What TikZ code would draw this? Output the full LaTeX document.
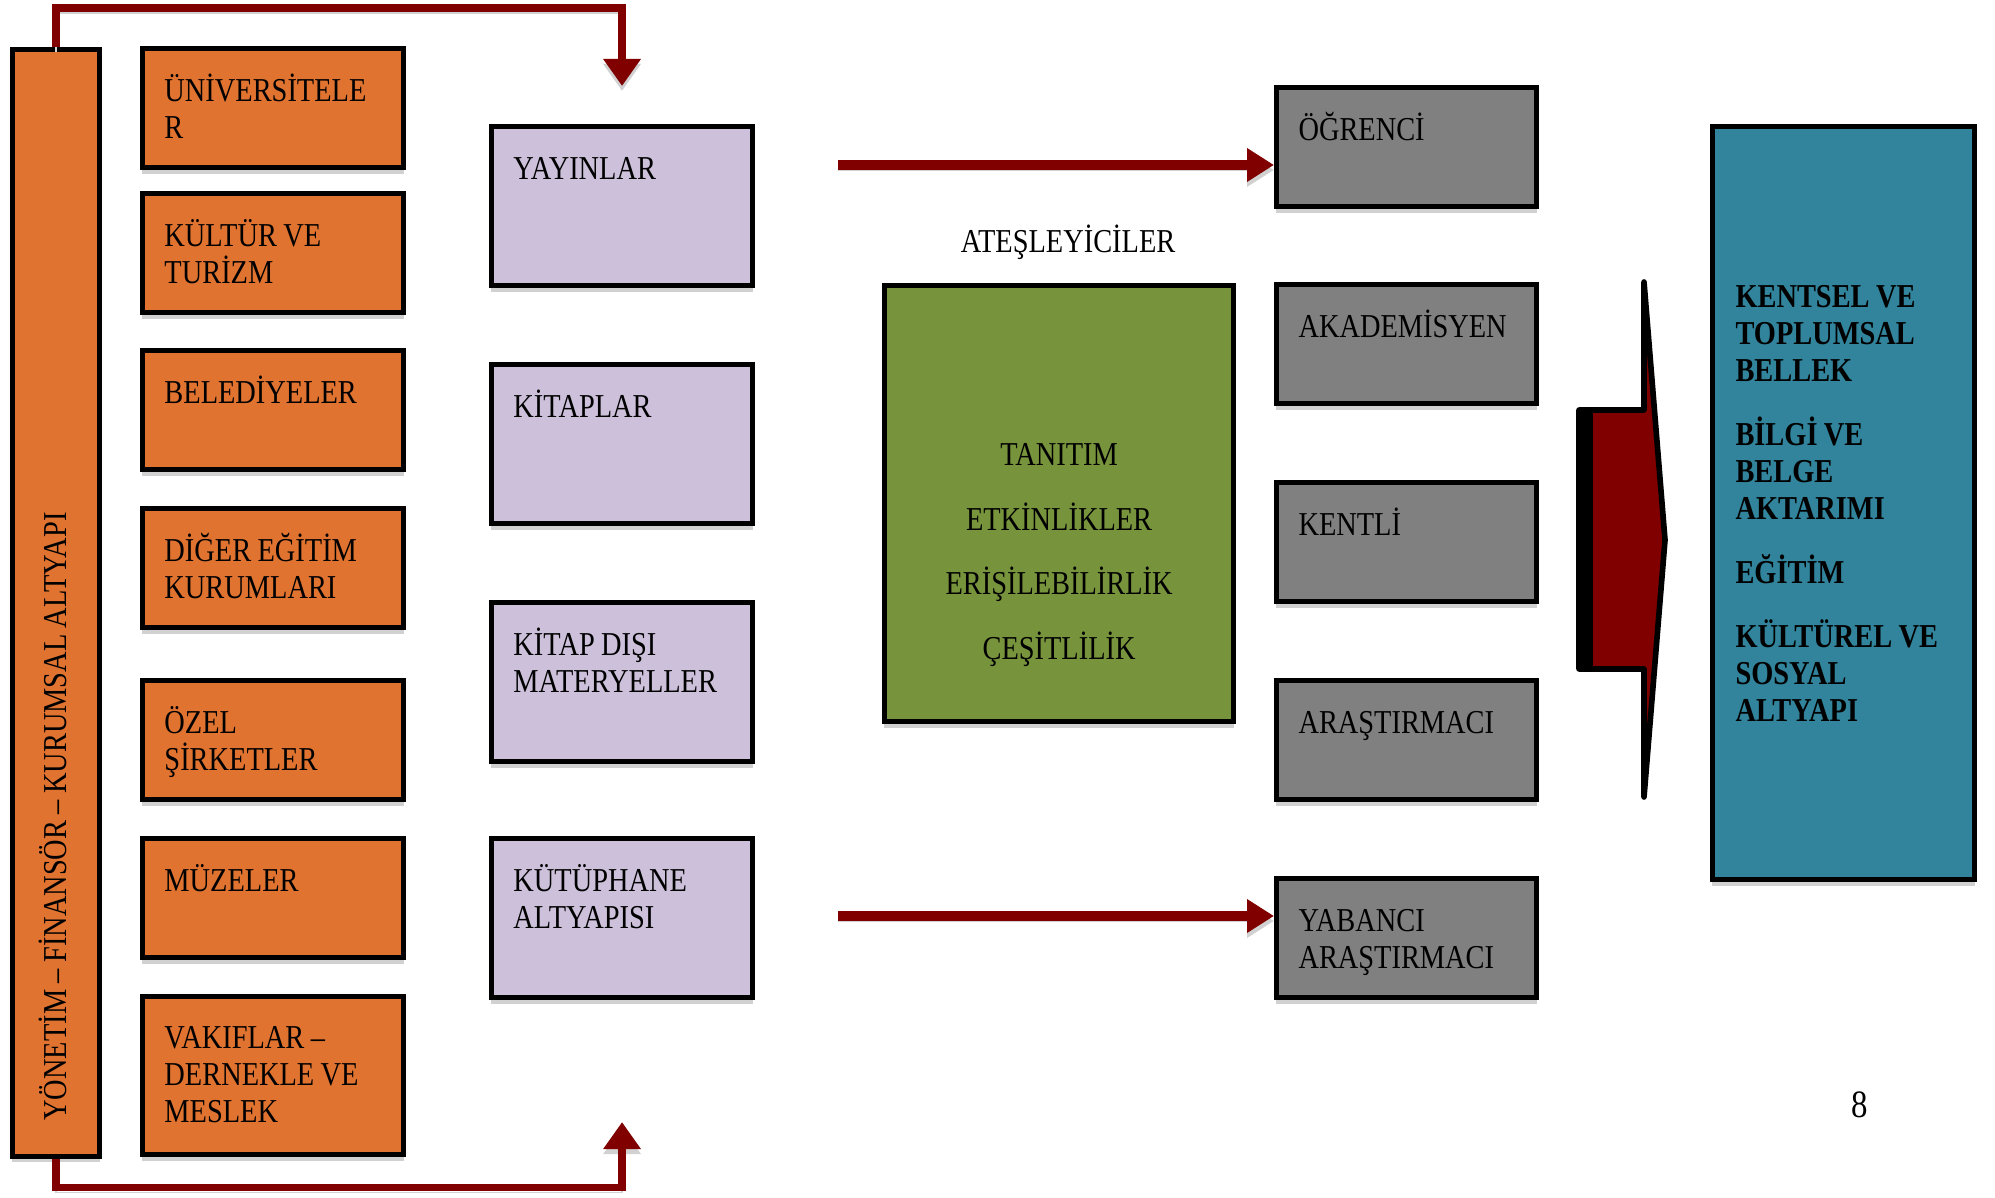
\documentclass[tikz,border=0pt]{standalone}
\usepackage{fontspec}
\setmainfont{Liberation Serif}[FakeStretch=0.85, WordSpace=0.9]
\usetikzlibrary{arrows.meta, positioning, shadows, calc}
\definecolor{mainOrange}{HTML}{E07330}
\definecolor{mainLilac}{HTML}{CCC0DA}
\definecolor{mainGray}{HTML}{808080}
\definecolor{mainGreen}{HTML}{77933C}
\definecolor{mainTeal}{HTML}{31849B}
\definecolor{linkRed}{HTML}{800000}
\definecolor{shadowGray}{gray}{0.82}

\begin{document}
\begin{tikzpicture}[x=0.01cm, y=-0.01cm,
    txt/.style={font=\fontsize{9.5}{10.5}\selectfont},
    base/.style={txt, draw=black, line width=1.4pt, anchor=north west, inner xsep=0.22cm, inner ysep=0pt, align=flush left,
        drop shadow={shadow xshift=0pt, shadow yshift=-0.06cm, fill=shadowGray, opacity=1}},
    orgbox/.style={base, fill=mainOrange, text width=2.17cm, text height=0.53cm, text depth=0.66cm},
    lilbox/.style={base, fill=mainLilac, text width=2.17cm, text height=0.53cm, text depth=1.06cm},
    grybox/.style={base, fill=mainGray, text width=2.16cm, text height=0.53cm, text depth=0.66cm},
    lnshadow/.style={preaction={draw=shadowGray, transform canvas={yshift=-0.05cm}}},
    link/.style={lnshadow, draw=linkRed, line width=2.2pt, -{Triangle[length=0.27cm, width=0.36cm]}},
    flow/.style={lnshadow, draw=linkRed, line width=2.9pt, -{Triangle[length=0.27cm, width=0.32cm]}}]
    \useasboundingbox (0,0) rectangle (1995,1198);

    % sol bant
    \node[base, fill=mainOrange, minimum width=0.87cm, minimum height=11.06cm, inner sep=0pt] (bar) at (10,47) {};
    \node[txt, rotate=90, anchor=west] (barlbl) at (53,1133) {YÖNETİM – FİNANSÖR – KURUMSAL ALTYAPI};

    % kurumlar
    \node[orgbox] (uni) at (140,46) {ÜNİVERSİTELE\\R};
    \node[orgbox] (kul) at (140,191) {KÜLTÜR VE\\TURİZM};
    \node[orgbox] (bel) at (140,348) {BELEDİYELER};
    \node[orgbox] (egt) at (140,506) {DİĞER EĞİTİM\\KURUMLARI};
    \node[orgbox] (ozl) at (140,678) {ÖZEL\\ŞİRKETLER};
    \node[orgbox] (muz) at (140,836) {MÜZELER};
    \node[orgbox, text height=0.52cm, text depth=1.06cm] (vak) at (140,994) {VAKIFLAR –\\DERNEKLE VE\\MESLEK};

    % kaynaklar
    \node[lilbox] (yay) at (489,124) {YAYINLAR};
    \node[lilbox] (kit) at (489,362) {KİTAPLAR};
    \node[lilbox] (mat) at (489,600) {KİTAP DIŞI\\MATERYELLER};
    \node[lilbox] (kut) at (489,836) {KÜTÜPHANE\\ALTYAPISI};

    % ateşleyiciler
    \node[txt, anchor=base] (ates) at (1068,253) {ATEŞLEYİCİLER};
    \node[base, fill=mainGreen, align=flush center, text width=3.05cm, text height=1.80cm, text depth=2.56cm] (grn) at (882,283)
        {TANITIM\\[7.9pt]ETKİNLİKLER\\[7.9pt]ERİŞİLEBİLİRLİK\\[7.9pt]ÇEŞİTLİLİK};

    % kullanıcılar
    \node[grybox] (ogr) at (1274,85) {ÖĞRENCİ};
    \node[grybox] (aka) at (1274,282) {AKADEMİSYEN};
    \node[grybox] (ken) at (1274,480) {KENTLİ};
    \node[grybox] (ara) at (1274,678) {ARAŞTIRMACI};
    \node[grybox] (yab) at (1274,876) {YABANCI\\ARAŞTIRMACI};

    % çıktılar
    \node[base, fill=mainTeal, font=\fontsize{9.5}{10.5}\selectfont\bfseries, inner xsep=0.23cm, text width=2.16cm, text height=1.81cm, text depth=5.72cm] (out) at (1710,124)
        {KENTSEL VE\\TOPLUMSAL\\BELLEK\\[7.7pt]BİLGİ VE\\BELGE\\AKTARIMI\\[7.7pt]EĞİTİM\\[7.7pt]KÜLTÜREL VE\\SOSYAL\\ALTYAPI};

    % büyük ok
    \draw[fill=linkRed, line width=1.6pt, line join=round] (1579,410) -- (1644,410) -- (1644,282) -- (1665,540)
        -- (1644,797) -- (1644,669) -- (1579,669) -- cycle;
    \fill[black] (1579,410) rectangle (1593,669);

    % bağlantılar
    \draw[link] (bar.north) -- ([yshift=0.39cm]bar.north) -| ([yshift=0.38cm]yay.north);
    \draw[link] (bar.south) -- ([yshift=-0.29cm]bar.south) -| ([yshift=-1.22cm]kut.south);
    \coordinate (s1) at (838,165);
    \coordinate (s2) at (838,916);
    \draw[flow] (s1) -- (ogr.west |- s1);
    \draw[flow] (s2) -- (yab.west |- s2);

    \node[font=\fontsize{11}{13}\selectfont] (pnum) at (1860,1105) {8};
\end{tikzpicture}
\end{document}
